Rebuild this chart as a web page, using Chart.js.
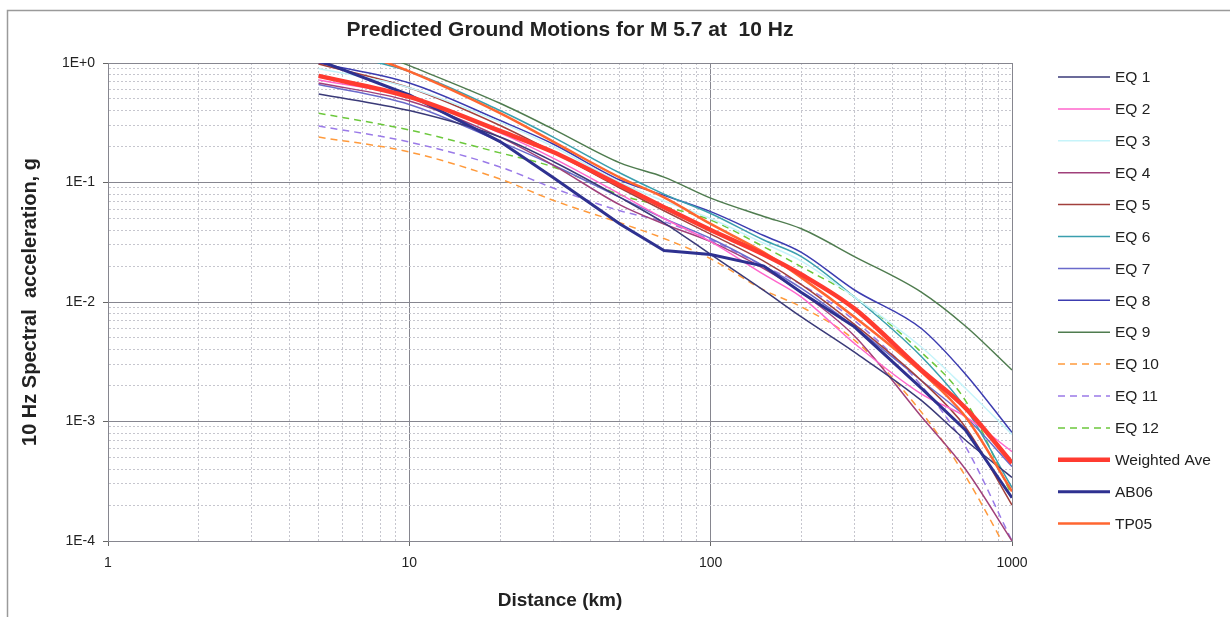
<!DOCTYPE html>
<html lang="en">
<head>
<meta charset="UTF-8">
<title>Predicted Ground Motions for M 5.7 at 10 Hz</title>
<script src="https://cdn.jsdelivr.net/npm/chart.js"></script>
<style>
  html, body { margin: 0; padding: 0; background: #fff; }
</style>
</head>
<body>
<canvas id="gmChart" width="1230" height="617"></canvas>
<script>
// distances in km, values are 10 Hz spectral acceleration in g
const distances = [5, 10, 20, 30, 50, 70, 100, 150, 200, 300, 500, 700, 1000];

const eq1  = [0.55, 0.40, 0.24, 0.15, 0.075, 0.046, 0.025, 0.0125, 0.0075, 0.0038, 0.0015, 0.0007, 0.00034];
const eq2  = [0.72, 0.52, 0.26, 0.16, 0.08, 0.05, 0.032, 0.017, 0.011, 0.0045, 0.0017, 0.0011, 0.00056];
const eq3  = [0.9, 0.62, 0.32, 0.2, 0.1, 0.07, 0.05, 0.031, 0.022, 0.011, 0.0042, 0.0019, 0.00078];
const eq4  = [0.68, 0.48, 0.24, 0.14, 0.065, 0.045, 0.032, 0.019, 0.012, 0.0052, 0.0011, 0.0004, 0.0001];
const eq5  = [0.98, 0.62, 0.3, 0.18, 0.09, 0.058, 0.037, 0.022, 0.014, 0.0065, 0.0022, 0.0009, 0.0002];
const eq6  = [1.3, 0.85, 0.4, 0.24, 0.12, 0.08, 0.055, 0.033, 0.024, 0.011, 0.0035, 0.0013, 0.00028];
const eq7  = [0.66, 0.45, 0.22, 0.14, 0.075, 0.05, 0.034, 0.02, 0.013, 0.0062, 0.0022, 0.0011, 0.00042];
const eq8  = [1.0, 0.68, 0.33, 0.21, 0.105, 0.078, 0.057, 0.036, 0.026, 0.0126, 0.006, 0.0025, 0.00081];
const eq9  = [1.9, 0.95, 0.46, 0.28, 0.146, 0.111, 0.074, 0.052, 0.041, 0.024, 0.0121, 0.0063, 0.0027];
const eq10 = [0.24, 0.18, 0.107, 0.071, 0.046, 0.034, 0.023, 0.0126, 0.0091, 0.0048, 0.0012, 0.00035, 0.00007];
const eq11 = [0.297, 0.218, 0.135, 0.09, 0.058, 0.047, 0.033, 0.02, 0.014, 0.007, 0.002, 0.00062, 0.0001];
const eq12 = [0.38, 0.275, 0.177, 0.135, 0.079, 0.063, 0.0485, 0.029, 0.0197, 0.011, 0.0038, 0.0015, 0.00024];
const weightedAve = [0.78, 0.52, 0.27, 0.18, 0.095, 0.062, 0.040, 0.025, 0.017, 0.0088, 0.0027, 0.0013, 0.00045];
const ab06 = [1.05, 0.54, 0.22, 0.11, 0.045, 0.027, 0.025, 0.020, 0.012, 0.0062, 0.0019, 0.00085, 0.00023];
const tp05 = [1.6, 0.85, 0.38, 0.22, 0.11, 0.075, 0.045, 0.026, 0.016, 0.0075, 0.0026, 0.0011, 0.00026];

const seriesNames = ['EQ 1', 'EQ 2', 'EQ 3', 'EQ 4', 'EQ 5', 'EQ 6', 'EQ 7', 'EQ 8', 'EQ 9',
                     'EQ 10', 'EQ 11', 'EQ 12', 'Weighted Ave', 'AB06', 'TP05'];
const seriesValues = [eq1, eq2, eq3, eq4, eq5, eq6, eq7, eq8, eq9, eq10, eq11, eq12, weightedAve, ab06, tp05];

const xTickLabels = ['1', '10', '100', '1000'];
const yTickLabels = ['1E-4', '1E-3', '1E-2', '1E-1', '1E+0'];

// line styles, same order as seriesNames
const lineStyles = [
    { color: '#3a3a78', width: 1.5 },
    { color: '#ff66cc', width: 1.5 },
    { color: '#c6f4fa', width: 1.5 },
    { color: '#a0407a', width: 1.5 },
    { color: '#a2403c', width: 1.5 },
    { color: '#3a9fae', width: 1.5 },
    { color: '#6a6acb', width: 1.5 },
    { color: '#3c3cb0', width: 1.5 },
    { color: '#4f7c4f', width: 1.5 },
    { color: '#ff9a3c', width: 1.5, dash: [7, 5] },
    { color: '#9a7ae8', width: 1.5, dash: [7, 5] },
    { color: '#6cc83c', width: 1.5, dash: [7, 5] },
    { color: '#ff3b30', width: 4.5, order: 0 },
    { color: '#2e3190', width: 3, order: 1, straight: true },
    { color: '#ff6630', width: 2.5, order: 2 }
];

const fontFamily = '"Liberation Sans", Arial, sans-serif';

function isDecade(v) {
    const l = Math.log10(v);
    return Math.abs(l - Math.round(l)) < 1e-9;
}

function gridTicks(minExp, maxExp) {
    const t = [];
    for (let e = minExp; e < maxExp; e++) {
        for (let m = 1; m < 10; m++) t.push({ value: Number((m * Math.pow(10, e)).toPrecision(3)) });
    }
    t.push({ value: Math.pow(10, maxExp) });
    return t;
}

const datasets = seriesNames.map((name, i) => {
    const s = lineStyles[i];
    return {
        label: name,
        data: distances.map((d, k) => ({ x: d, y: seriesValues[i][k] })),
        borderColor: s.color,
        backgroundColor: s.color,
        borderWidth: s.width,
        borderDash: s.dash || [],
        pointRadius: 0,
        fill: false,
        tension: s.straight ? 0 : 0.3,
        cubicInterpolationMode: s.straight ? 'default' : 'monotone',
        order: s.order !== undefined ? s.order : 3
    };
});

const gridColor = c => (c.tick && !isDecade(c.tick.value)) ? '#c6c6ce' : '#86868f';
const gridDash = c => (c.tick && !isDecade(c.tick.value)) ? [2, 2] : [];
const tickColor = c => (c.tick && !isDecade(c.tick.value)) ? 'rgba(0,0,0,0)' : '#666';

// frame, title and legend drawn on the canvas
const decorations = {
    id: 'decorations',
    beforeDraw(chart) {
        const ctx = chart.ctx;
        ctx.save();
        ctx.fillStyle = '#fff';
        ctx.fillRect(0, 0, chart.width, chart.height);
        ctx.restore();
    },
    afterDraw(chart) {
        const ctx = chart.ctx;
        ctx.save();
        ctx.strokeStyle = '#9a9a9a';
        ctx.lineWidth = 1.5;
        ctx.strokeRect(7.5, 10.5, 1240, 620);

        ctx.fillStyle = '#222';
        ctx.font = 'bold 21px ' + fontFamily;
        ctx.textAlign = 'center';
        ctx.textBaseline = 'middle';
        ctx.fillText('Predicted Ground Motions for M 5.7 at  10 Hz', 570, 30);

        ctx.font = '15.5px ' + fontFamily;
        ctx.textAlign = 'left';
        chart.data.datasets.forEach((ds, i) => {
            const y = 77 + i * 31.9;
            ctx.strokeStyle = ds.borderColor;
            ctx.lineWidth = ds.borderWidth;
            ctx.setLineDash(ds.borderDash || []);
            ctx.beginPath();
            ctx.moveTo(1058, y);
            ctx.lineTo(1110, y);
            ctx.stroke();
            ctx.setLineDash([]);
            ctx.fillStyle = '#222';
            ctx.fillText(ds.label, 1115, y + 1);
        });
        ctx.restore();
    }
};

new Chart(document.getElementById('gmChart').getContext('2d'), {
    type: 'line',
    data: { datasets: datasets },
    plugins: [decorations],
    options: {
        responsive: false,
        animation: false,
        devicePixelRatio: 1,
        layout: { padding: { left: 0, top: 63, right: 218, bottom: 0 } },
        plugins: {
            legend: { display: false },
            title: { display: false },
            tooltip: { enabled: false }
        },
        scales: {
            x: {
                type: 'logarithmic',
                min: 1,
                max: 1000,
                afterBuildTicks: scale => { scale.ticks = gridTicks(0, 3); },
                afterFit: scale => { scale.height = 76; },
                ticks: {
                    autoSkip: false,
                    maxRotation: 0,
                    padding: 9,
                    color: '#222',
                    font: { family: fontFamily, size: 14 },
                    callback: v => isDecade(v) ? xTickLabels[Math.round(Math.log10(v))] : ''
                },
                grid: { color: gridColor, lineWidth: 1, tickLength: 5, tickColor: tickColor },
                border: { color: '#86868f', dash: gridDash },
                title: {
                    display: true,
                    text: 'Distance (km)',
                    color: '#222',
                    font: { family: fontFamily, size: 19, weight: 'bold' },
                    padding: { top: 0, bottom: 5 }
                }
            },
            y: {
                type: 'logarithmic',
                min: 0.0001,
                max: 1,
                afterBuildTicks: scale => { scale.ticks = gridTicks(-4, 0); },
                afterFit: scale => { scale.width = 108; },
                ticks: {
                    autoSkip: false,
                    padding: 8,
                    color: '#222',
                    font: { family: fontFamily, size: 14 },
                    callback: v => isDecade(v) ? yTickLabels[Math.round(Math.log10(v)) + 4] : ''
                },
                grid: { color: gridColor, lineWidth: 1, tickLength: 5, tickColor: tickColor },
                border: { color: '#86868f', dash: gridDash },
                title: {
                    display: true,
                    text: '10 Hz Spectral  acceleration, g',
                    color: '#222',
                    font: { family: fontFamily, size: 20, weight: 'bold' },
                    padding: { top: 18, bottom: 0 }
                }
            }
        }
    }
});
</script>
</body>
</html>
